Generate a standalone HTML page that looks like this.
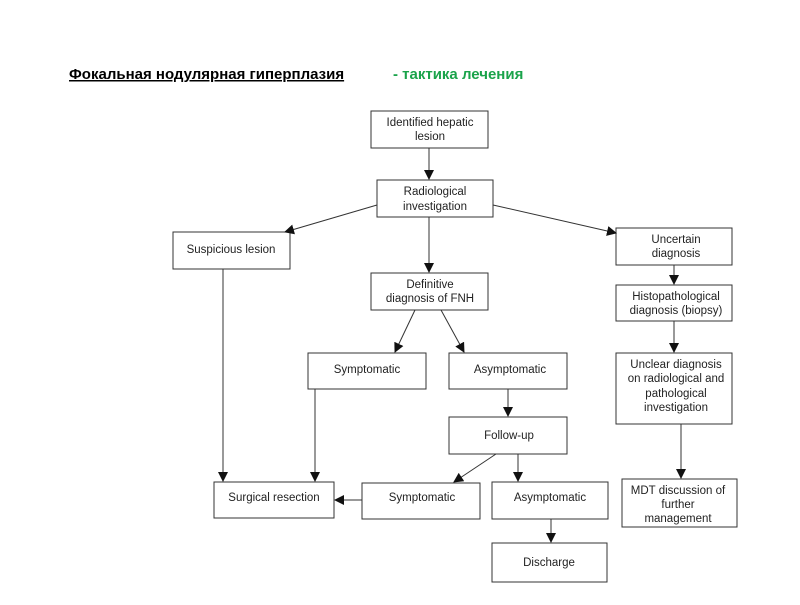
<!DOCTYPE html>
<html><head><meta charset="utf-8"><style>
body{margin:0;background:#fff;width:800px;height:600px;overflow:hidden}
svg text{font-family:"Liberation Sans",Arial,sans-serif;font-size:11.5px;fill:#222}
</style></head><body>
<svg width="800" height="600" xmlns="http://www.w3.org/2000/svg">
<defs><marker id="a" markerWidth="10" markerHeight="10" refX="9" refY="5" orient="auto" markerUnits="userSpaceOnUse"><path d="M0,0 L10,5 L0,10 z" fill="#111"/></marker></defs>
<text x="69" y="79" style="font-size:15px;font-weight:bold;fill:#000;text-decoration:underline">Фокальная нодулярная гиперплазия </text>
<text x="393" y="79" style="font-size:15px;font-weight:bold;fill:#1aa34a">- тактика лечения</text>
<g fill="#fff" stroke="#333" stroke-width="1">
<rect x="371" y="111" width="117" height="37"/>
<rect x="377" y="180" width="116" height="37"/>
<rect x="173" y="232" width="117" height="37"/>
<rect x="616" y="228" width="116" height="37"/>
<rect x="371" y="273" width="117" height="37"/>
<rect x="616" y="285" width="116" height="36"/>
<rect x="308" y="353" width="118" height="36"/>
<rect x="449" y="353" width="118" height="36"/>
<rect x="616" y="353" width="116" height="71"/>
<rect x="449" y="417" width="118" height="37"/>
<rect x="214" y="482" width="120" height="36"/>
<rect x="362" y="483" width="118" height="36"/>
<rect x="492" y="482" width="116" height="37"/>
<rect x="622" y="479" width="115" height="48"/>
<rect x="492" y="543" width="115" height="39"/>
</g>
<g stroke="#333" stroke-width="1" marker-end="url(#a)">
<line x1="429" y1="148" x2="429" y2="179"/>
<line x1="377" y1="205" x2="285" y2="232"/>
<line x1="493" y1="205" x2="616" y2="233"/>
<line x1="429" y1="217" x2="429" y2="272"/>
<line x1="674" y1="265" x2="674" y2="284"/>
<line x1="415" y1="310" x2="395" y2="352"/>
<line x1="441" y1="310" x2="464" y2="352"/>
<line x1="674" y1="321" x2="674" y2="352"/>
<line x1="508" y1="389" x2="508" y2="416"/>
<line x1="223" y1="269" x2="223" y2="481"/>
<line x1="315" y1="389" x2="315" y2="481"/>
<line x1="496" y1="454" x2="454" y2="482"/>
<line x1="518" y1="454" x2="518" y2="481"/>
<line x1="362" y1="500" x2="335" y2="500"/>
<line x1="681" y1="424" x2="681" y2="478"/>
<line x1="551" y1="519" x2="551" y2="542"/>
</g>
<g text-anchor="middle">
<text x="430" y="126">Identified hepatic</text><text x="430" y="140">lesion</text>
<text x="435" y="195">Radiological</text><text x="435" y="210">investigation</text>
<text x="231" y="253">Suspicious lesion</text>
<text x="676" y="243">Uncertain</text><text x="676" y="257">diagnosis</text>
<text x="430" y="288">Definitive</text><text x="430" y="302">diagnosis of FNH</text>
<text x="676" y="300">Histopathological</text><text x="676" y="314">diagnosis (biopsy)</text>
<text x="367" y="373">Symptomatic</text>
<text x="510" y="373">Asymptomatic</text>
<text x="676" y="368">Unclear diagnosis</text><text x="676" y="382">on radiological and</text><text x="676" y="397">pathological</text><text x="676" y="411">investigation</text>
<text x="509" y="439">Follow-up</text>
<text x="274" y="501">Surgical resection</text>
<text x="422" y="501">Symptomatic</text>
<text x="550" y="501">Asymptomatic</text>
<text x="678" y="494">MDT discussion of</text><text x="678" y="508">further</text><text x="678" y="522">management</text>
<text x="549" y="566">Discharge</text>
</g>
</svg>
</body></html>
